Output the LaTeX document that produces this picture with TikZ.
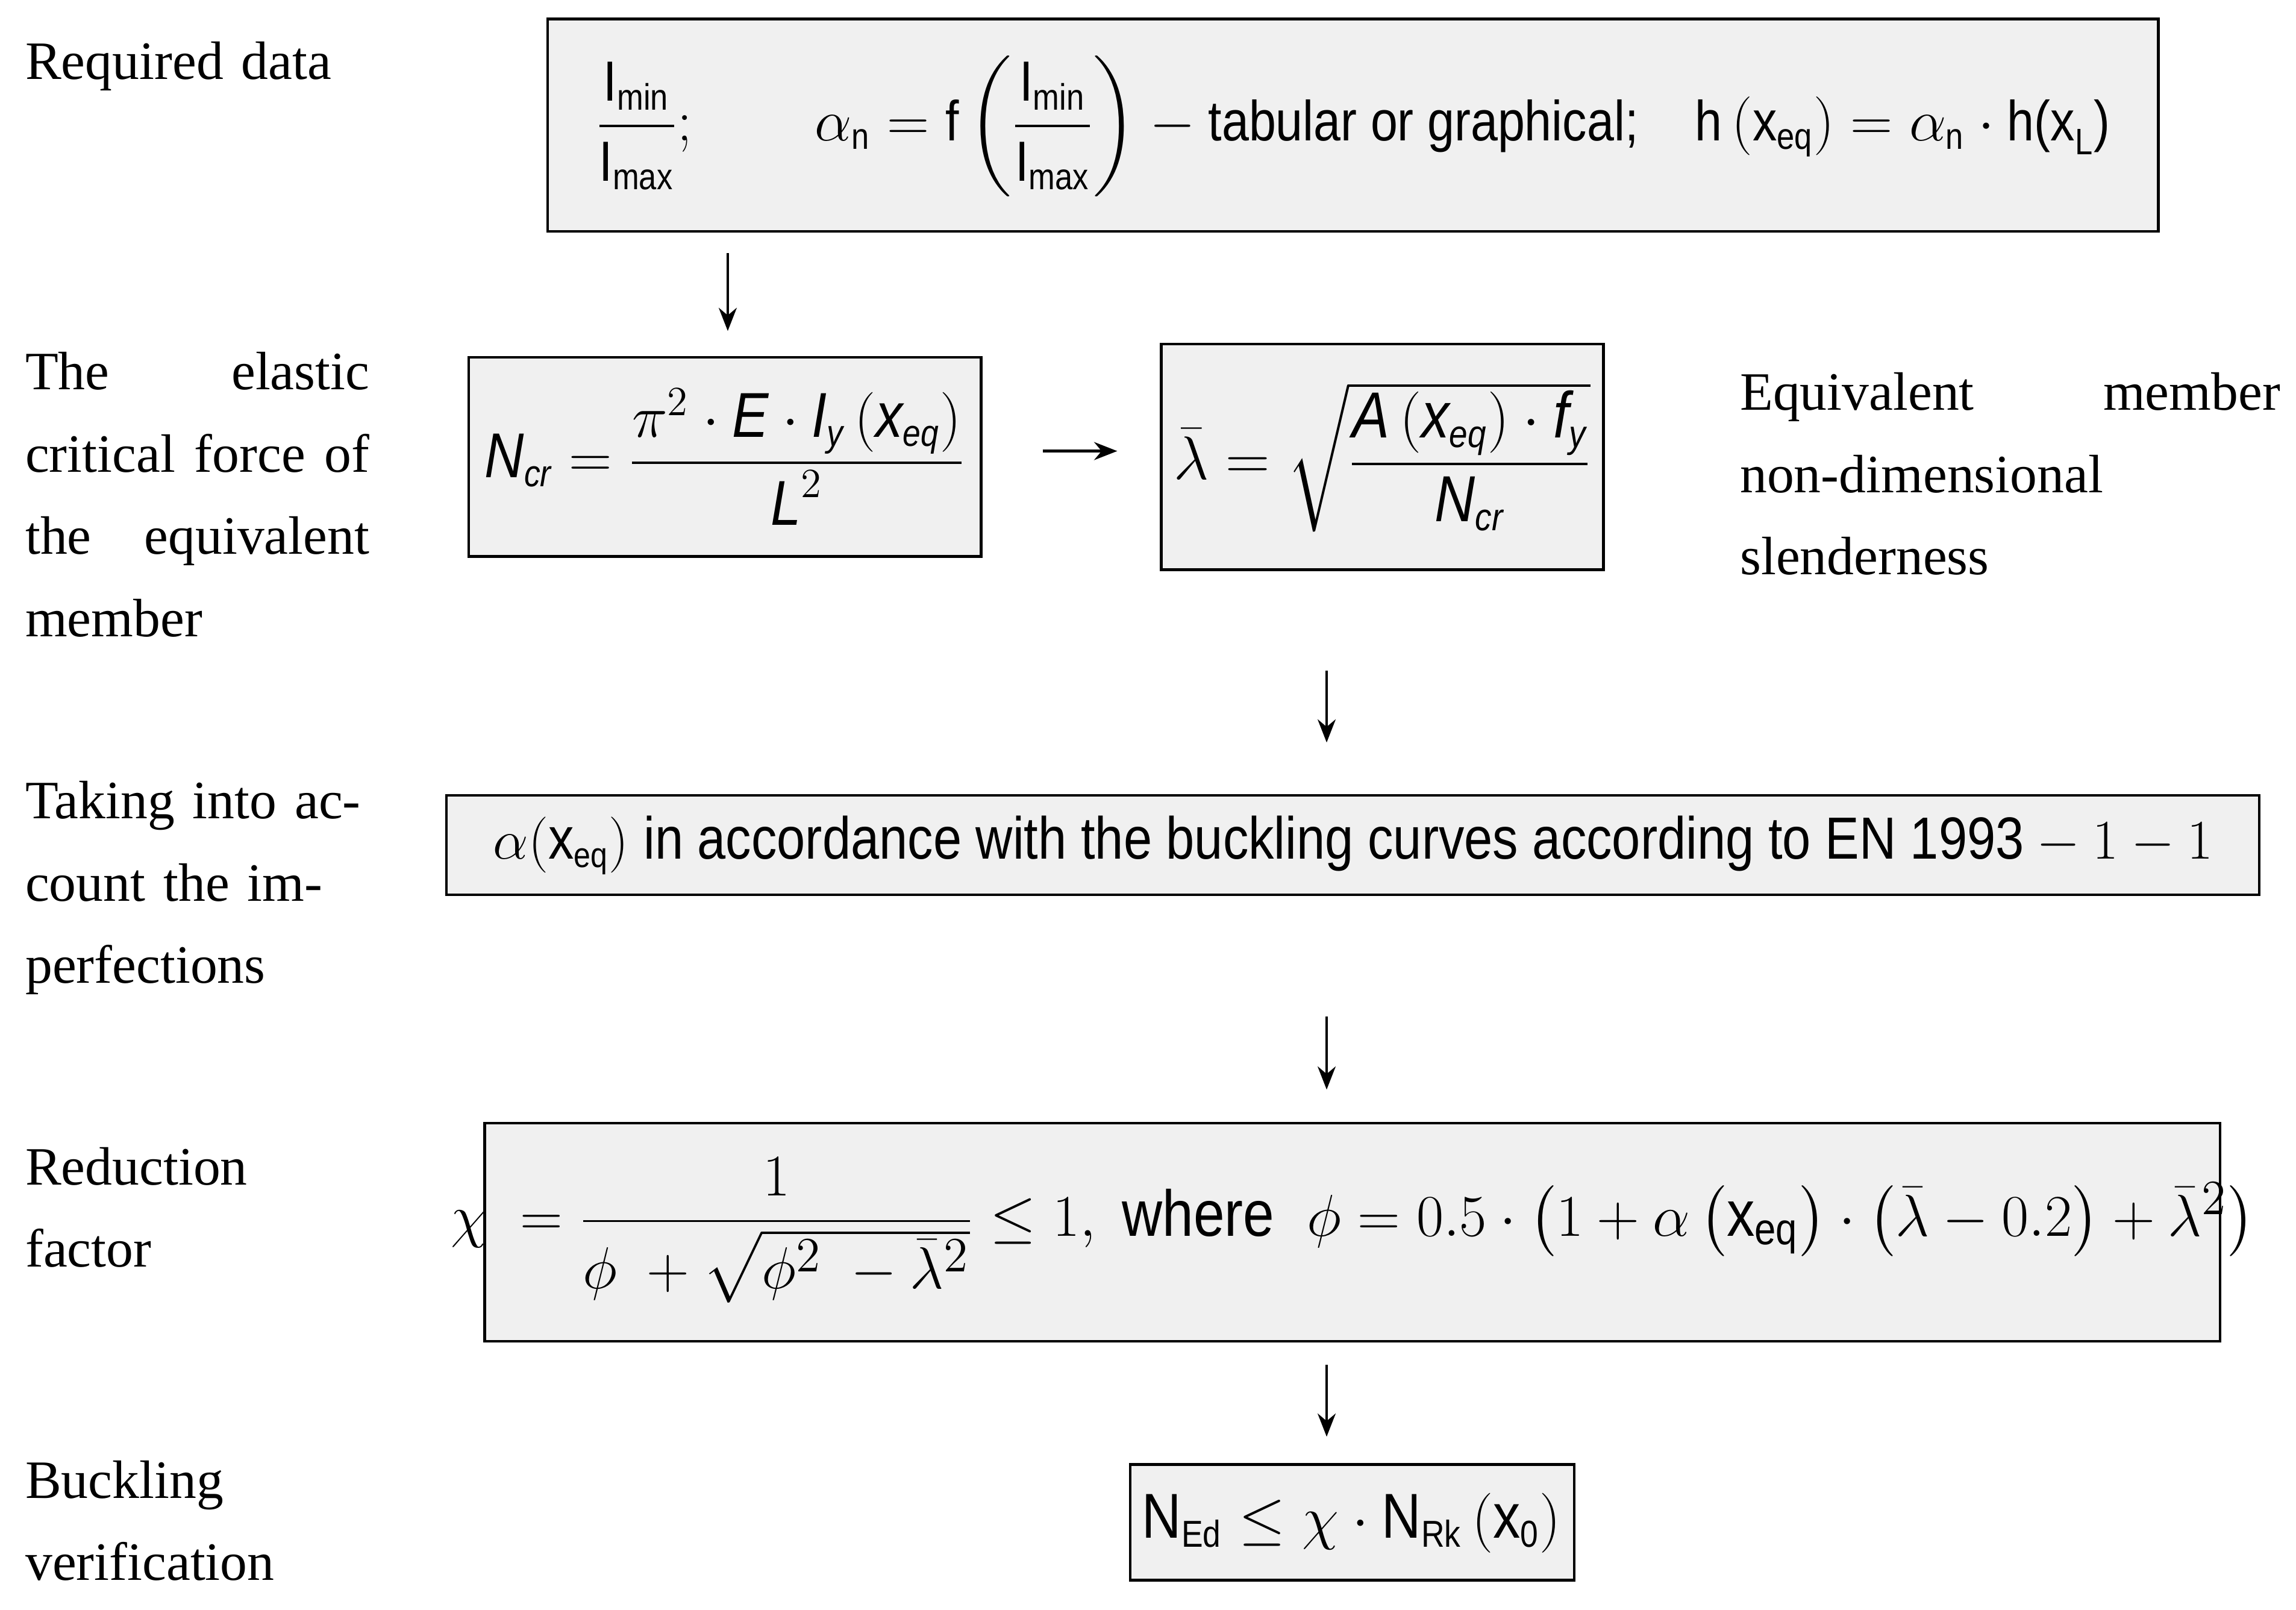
\documentclass[tikz,border=0pt]{standalone}
\usepackage{amsmath}
\usepackage{graphicx}
\usepackage{fontspec}
\setmainfont{Liberation Serif}
\newfontfamily\arial[FakeStretch=0.86]{Liberation Sans}
\usetikzlibrary{arrows.meta}
\newcommand{\A}[1]{\mbox{\arial #1}}
\newcommand{\Ai}[1]{\mbox{\arial\itshape #1}}
\newcommand{\As}[1]{\mbox{\arial\fontsize{13}{13}\selectfont #1}}
\newcommand{\Ais}[1]{\mbox{\arial\itshape\fontsize{13}{13}\selectfont #1}}
\begin{document}
\begin{tikzpicture}[x=0.02cm,y=-0.02cm,
  fbox/.style={draw,line width=1pt,fill=gray!12},
  lab/.style={anchor=north west,inner sep=0,text width=4.7cm,align=left,font=\fontsize{21}{32}\selectfont},
  frm/.style={font=\fontsize{22}{26}\selectfont}]
\tikzset{arr/.style={-{Stealth[length=9pt,width=7pt]},line width=1pt}}
\useasboundingbox (0,0) rectangle (1568,1099);
% boxes
\draw[fbox] (374,13) rectangle (1474,158);
\node[frm,font=\fontsize{20}{24}\selectfont] (f1) at (924,86) {\scalebox{1.1}{$\dfrac{\A{I}_{\As{min}}}{\A{I}_{\As{max}}};\qquad \alpha_{\As{n}}=\A{f}\left(\dfrac{\A{I}_{\As{min}}}{\A{I}_{\As{max}}}\right)-\A{tabular or graphical;}\quad \A{h}\left(\A{x}_{\As{eq}}\right)=\alpha_{\As{n}}\cdot\A{h(x}_{\As{L}}\A{)}$}};
\draw[fbox] (320,244) rectangle (670,380);
\node[frm] (f2) at (495,312) {\scalebox{1.12}{$\Ai{N}_{\Ais{cr}}=\dfrac{\pi^2\cdot\Ai{E}\cdot\Ai{I}_{\Ais{y}}\left(\Ai{x}_{\Ais{eq}}\right)}{\Ai{L}^2}$}};
\draw[fbox] (793,235) rectangle (1095,389);
\node[frm] (f3) at (944,312) {\scalebox{1.15}{$\bar\lambda=\sqrt{\dfrac{\Ai{A}\left(\Ai{x}_{\Ais{eq}}\right)\cdot\Ai{f}_{\Ais{y}}}{\Ai{N}_{\Ais{cr}}}}$}};
\draw[fbox] (305,543) rectangle (1543,611);
\node[frm] (f4) at (924,577) {\scalebox{1.05}{$\alpha(\A{x}_{\As{eq}})\ \A{in accordance with the buckling curves according to EN 1993}-1-1$}};
\draw[fbox] (331,767) rectangle (1516,916);
\node[frm,font=\fontsize{19}{24}\selectfont] (f5) at (924,840) {\scalebox{1.33}{$\chi\ =\dfrac{1}{\phi\ +\sqrt{\phi^2\ -\bar\lambda^2}}\le 1,\ \A{where}\ \ \phi=0.5\cdot\left(1+\alpha\left(\A{x}_{\As{eq}}\right)\cdot\left(\bar\lambda-0.2\right)+\bar\lambda^2\right)$}};
\draw[fbox] (772,1000) rectangle (1075,1079);
\node[frm] (f6) at (923,1040) {\scalebox{1.12}{$\A{N}_{\As{Ed}}\le\chi\cdot\A{N}_{\As{Rk}}\left(\A{x}_{\As{0}}\right)$}};
% arrows
\coordinate (a1) at (497,173); \coordinate (b1) at (497,226);
\draw[arr] (a1) -- (b1);
\coordinate (a2) at (712,308); \coordinate (b2) at (763,308);
\draw[arr] (a2) -- (b2);
\coordinate (a3) at (906,458); \coordinate (b3) at (906,507);
\draw[arr] (a3) -- (b3);
\coordinate (a4) at (906,694); \coordinate (b4) at (906,744);
\draw[arr] (a4) -- (b4);
\coordinate (a5) at (906,932); \coordinate (b5) at (906,981);
\draw[arr] (a5) -- (b5);
% labels
\node[lab] (l1) at (17,28) {Required data};
\node[lab] (l2) at (17,240) {The\hfill elastic\\critical\hfill force\hfill of\\the\hfill equivalent\\member};
\node[lab,text width=7.38cm] (l3) at (1188,254) {Equivalent\hfill member\\non-dimensional\\slenderness};
\node[lab] (l4) at (17,533) {Taking into ac-\\count the im-\\perfections};
\node[lab] (l5) at (17,783) {Reduction\\factor};
\node[lab] (l6) at (17,997) {Buckling\\verification};
\end{tikzpicture}
\end{document}
